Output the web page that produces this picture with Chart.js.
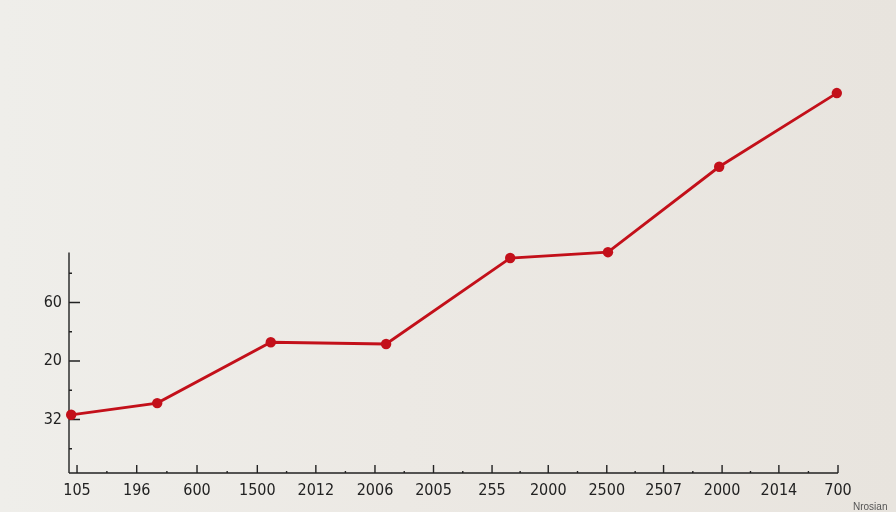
<!DOCTYPE html>
<html>
<head>
<meta charset="utf-8">
<script src="https://cdn.jsdelivr.net/npm/chart.js@4/dist/chart.umd.min.js"></script>
<style>
  html, body { margin: 0; padding: 0; }
  body {
    width: 896px; height: 512px; overflow: hidden; position: relative;
    background: linear-gradient(90deg, #efeeea 0%, #ece9e4 45%, #e8e4de 100%);
  }
  #wrap { position: absolute; left: 0; top: 0; width: 896px; height: 512px; }
  #note {
    position: absolute; left: 853px; top: 501px;
    font: 10px "Liberation Sans", Arial, sans-serif; color: #555;
  }
</style>
</head>
<body>
<div id="wrap"><canvas id="chart" width="896" height="512"></canvas></div>
<div id="note">Nrosian</div>
<script>
// etiquetas de los ejes, tal como aparecen
const xLabels = ['105', '196', '600', '1500', '2012', '2006', '2005', '255', '2000', '2500', '2507', '2000', '2014', '700'];
// posición de cada etiqueta sobre el eje x (no son del todo regulares)
const xLabelPos = [0, 1.02, 2.05, 3.08, 4.08, 5.09, 6.09, 7.09, 8.05, 9.05, 10.02, 11.02, 11.99, 13];
const yLabels = { 1: '32', 2: '20', 3: '60' };

// puntos de la serie (x en unidades del eje, y en unidades del eje)
const serieX = [-0.10, 1.37, 3.31, 5.28, 7.40, 9.07, 10.97, 12.98];
const serieY = [1.08, 1.28, 2.32, 2.29, 3.76, 3.86, 5.32, 6.58];

const yTickValues = [0.5, 1, 1.5, 2, 2.5, 3, 3.5];
const yAxisTop = 3.855;

const ink = '#222';
const rojo = '#c3101a';
const fontTicks = { family: '"Liberation Sans Narrow", "DejaVu Sans Condensed", "Liberation Sans", sans-serif', size: 16 };

// marcas mayores en las etiquetas y menores a mitad de camino
const xTicks = [];
xLabelPos.forEach((p, i) => {
    xTicks.push({ value: p, major: true, label: xLabels[i] });
    if (i < xLabelPos.length - 1) xTicks.push({ value: (p + xLabelPos[i + 1]) / 2, major: false, label: '' });
});

// dibuja las líneas de ejes y marcas hacia adentro
const ejesPlugin = {
    id: 'ejes',
    beforeDatasetsDraw(chart) {
        const { ctx, scales: { x, y } } = chart;
        const base = y.getPixelForValue(y.min);
        const left = x.getPixelForValue(x.min);
        ctx.save();
        ctx.strokeStyle = ink;
        ctx.lineWidth = 1.4;
        ctx.beginPath();
        ctx.moveTo(left, base);
        ctx.lineTo(x.getPixelForValue(x.max), base);
        ctx.moveTo(left, base);
        ctx.lineTo(left, y.getPixelForValue(yAxisTop));
        xTicks.forEach(t => {
            const px = x.getPixelForValue(t.value);
            const len = t.major ? 8 : 2;
            ctx.moveTo(px, base);
            ctx.lineTo(px, base - len);
        });
        y.ticks.forEach(t => {
            const py = y.getPixelForValue(t.value);
            const len = Number.isInteger(t.value) ? 11 : 3;
            ctx.moveTo(left, py);
            ctx.lineTo(left + len, py);
        });
        ctx.stroke();
        ctx.restore();
    }
};

const datos = serieX.map((v, i) => ({ x: v, y: serieY[i] }));

new Chart(document.getElementById('chart'), {
    type: 'line',
    data: {
        datasets: [{
            data: datos,
            borderColor: rojo,
            backgroundColor: rojo,
            borderWidth: 2.8,
            pointRadius: 5.2,
            pointHoverRadius: 5.2,
            pointBorderWidth: 0,
            tension: 0,
            clip: false
        }]
    },
    options: {
        responsive: false,
        animation: false,
        layout: { padding: { top: 68.5, right: 58, left: 0, bottom: 0 } },
        plugins: { legend: { display: false }, tooltip: { enabled: false } },
        scales: {
            x: {
                type: 'linear',
                min: -0.137,
                max: 13,
                afterBuildTicks: s => { s.ticks = xTicks.filter(t => t.major).map(t => ({ value: t.value })); },
                afterFit: s => { s.height = 39; },
                grid: { display: false, drawTicks: false },
                border: { display: false },
                ticks: {
                    autoSkip: false,
                    maxRotation: 0,
                    padding: 8,
                    color: ink,
                    font: fontTicks,
                    callback: (v, i) => xLabels[i]
                }
            },
            y: {
                type: 'linear',
                min: 0.085,
                max: 7,
                afterBuildTicks: s => { s.ticks = yTickValues.map(v => ({ value: v })); },
                afterFit: s => { s.width = 69; },
                grid: { display: false, drawTicks: false },
                border: { display: false },
                ticks: {
                    padding: 7,
                    color: ink,
                    font: fontTicks,
                    callback: v => yLabels[v] || ''
                }
            }
        }
    },
    plugins: [ejesPlugin]
});
</script>
</body>
</html>
